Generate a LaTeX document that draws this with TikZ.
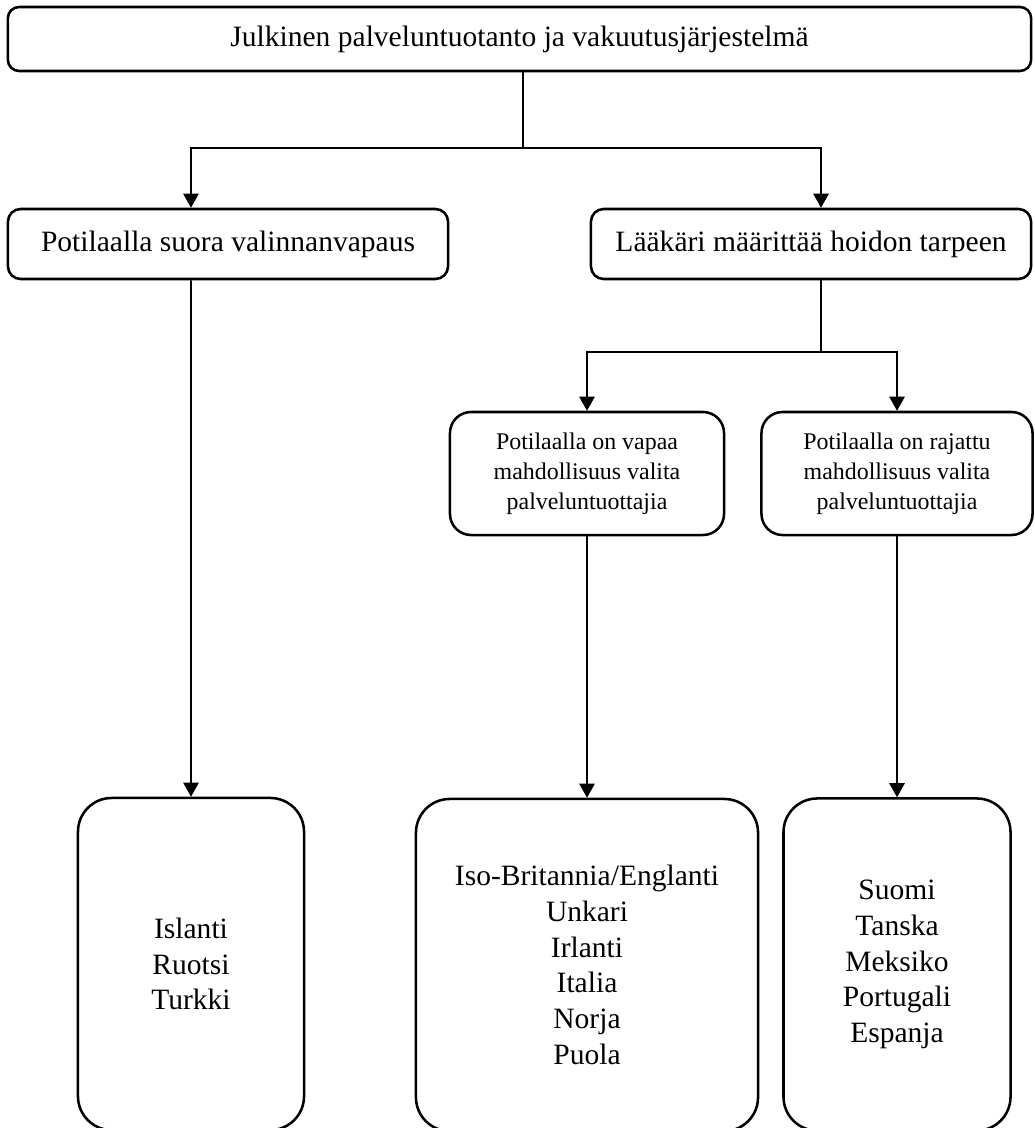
\documentclass[tikz,border=0pt]{standalone}
\usepackage{fontspec}
\setmainfont{Liberation Serif}
\usetikzlibrary{arrows.meta}
\tikzset{
  head/.style   = {rectangle, draw, line width=1.8pt, rounded corners=8pt,
                   minimum width=25.575cm, minimum height=1.6cm,
                   font=\fontsize{21}{25}\selectfont},
  branch/.style = {rectangle, draw, line width=1.8pt, rounded corners=9pt,
                   minimum width=11cm, minimum height=1.75cm,
                   font=\fontsize{21}{25}\selectfont},
  choice/.style = {rectangle, draw, line width=1.8pt, rounded corners=15pt,
                   minimum height=3.075cm, align=center,
                   font=\fontsize{17}{21.5}\selectfont},
  land/.style   = {rectangle, draw, line width=1.8pt, rounded corners=24pt,
                   minimum height=8.3cm, align=center,
                   font=\fontsize{21}{25.4}\selectfont},
  wire/.style   = {line width=1.1pt},
  edge/.style   = {line width=1.1pt, -{Triangle[length=10pt, width=11pt]}},
}

\begin{document}
\begin{tikzpicture}[x=0.025cm, y=-0.025cm]
  \useasboundingbox (0,0) rectangle (1034,1128);

  \node[head]   (sys)  at (519.5,39)  {Julkinen palveluntuotanto ja vakuutusjärjestelmä};
  \node[branch] (free) at (228,244)   {Potilaalla suora valinnanvapaus};
  \node[branch] (doc)  at (811,244)   {Lääkäri määrittää hoidon tarpeen};

  \node[choice, minimum width=6.85cm]  (open)  at (587,473.5)
    {Potilaalla on vapaa\\mahdollisuus valita\\palveluntuottajia};
  \node[choice, minimum width=6.775cm] (limit) at (897,473.5)
    {Potilaalla on rajattu\\mahdollisuus valita\\palveluntuottajia};

  \node[land, minimum width=5.65cm]  (grpA) at (191,964)
    {Islanti\\Ruotsi\\Turkki};
  \node[land, minimum width=8.55cm]  (grpB) at (587,965)
    {Iso-Britannia/Englanti\\Unkari\\Irlanti\\Italia\\Norja\\Puola};
  \node[land, minimum width=5.675cm] (grpC) at (897,964.5)
    {Suomi\\Tanska\\Meksiko\\Portugali\\Espanja};

  % forks
  \coordinate (f1) at (523,148);
  \coordinate (f2) at (821,352);

  \draw[wire] (sys.south -| f1) -- (f1);
  \draw[edge] (f1) -| ([xshift=-0.925cm]free.north);
  \draw[edge] (f1) -| ([xshift=0.25cm]doc.north);

  \draw[wire] (doc.south -| f2) -- (f2);
  \draw[edge] (f2) -| (open.north);
  \draw[edge] (f2) -| (limit.north);

  % down to the countries
  \draw[edge] ([xshift=-0.925cm]free.south) -- (grpA.north);
  \draw[edge] (open) -- (grpB);
  \draw[edge] (limit) -- (grpC);

\end{tikzpicture}
\end{document}
